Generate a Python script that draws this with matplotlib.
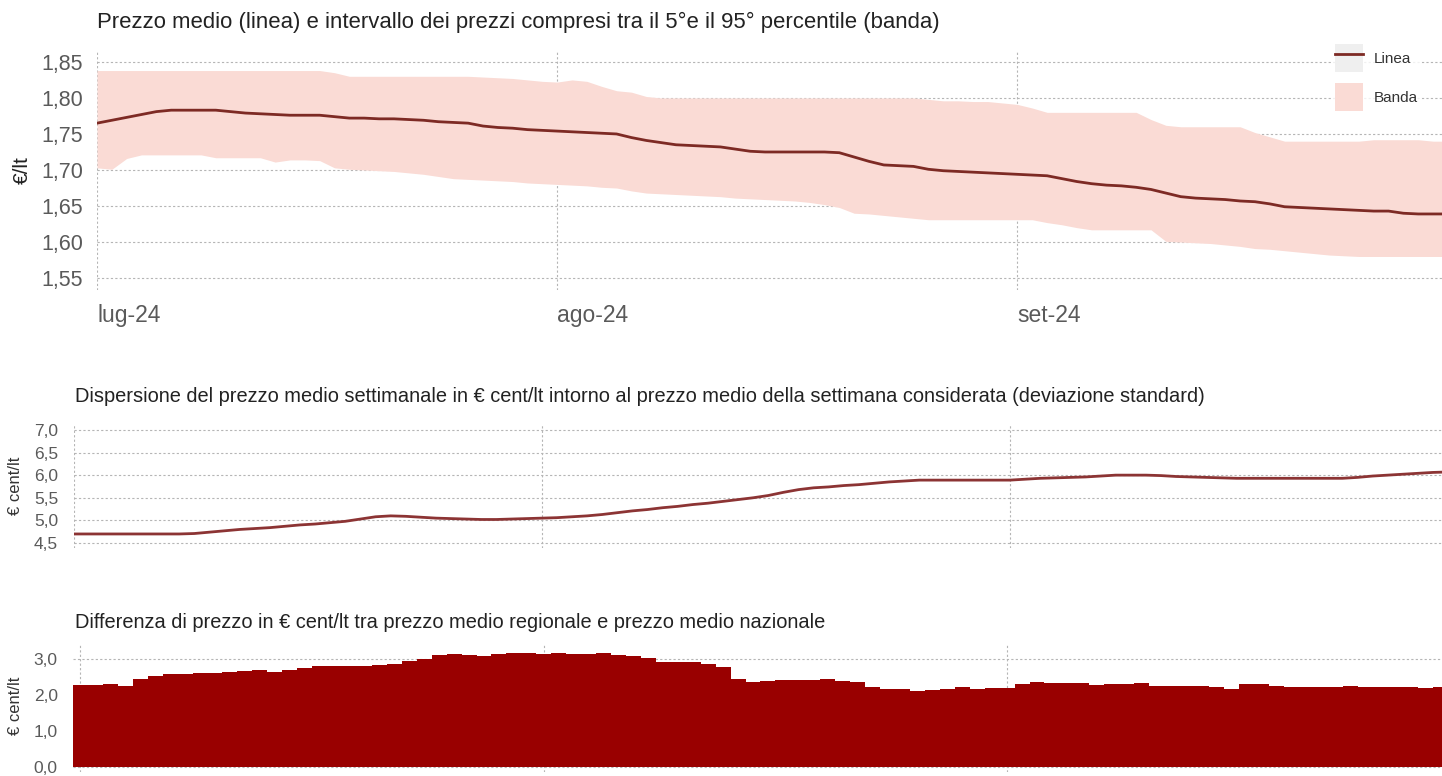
import matplotlib
matplotlib.use('Agg')
import matplotlib.pyplot as plt
from matplotlib.lines import Line2D
from matplotlib.patches import Patch
from matplotlib.legend_handler import HandlerTuple
from matplotlib.ticker import FuncFormatter
import numpy as np
import pandas as pd

plt.rcParams['font.family'] = ['Liberation Sans', 'DejaVu Sans']

# prezzo medio giornaliero (euro/lt), 1 lug - 30 set 2024
mean_price = [1.765, 1.769, 1.773, 1.777, 1.781, 1.783, 1.783, 1.783, 1.783, 1.781,
              1.779, 1.778, 1.777, 1.776, 1.776, 1.776, 1.774, 1.772, 1.772, 1.771,
              1.771, 1.770, 1.769, 1.767, 1.766, 1.765, 1.761, 1.759, 1.758, 1.756,
              1.755, 1.754, 1.753, 1.752, 1.751, 1.750, 1.745, 1.741, 1.738, 1.735,
              1.734, 1.733, 1.732, 1.729, 1.726, 1.725, 1.725, 1.725, 1.725, 1.725,
              1.724, 1.718, 1.712, 1.707, 1.706, 1.705, 1.701, 1.699, 1.698, 1.697,
              1.696, 1.695, 1.694, 1.693, 1.692, 1.688, 1.684, 1.681, 1.679, 1.678,
              1.676, 1.673, 1.668, 1.663, 1.661, 1.660, 1.659, 1.657, 1.656, 1.653,
              1.649, 1.648, 1.647, 1.646, 1.645, 1.644, 1.643, 1.643, 1.640, 1.639,
              1.639, 1.639]

# 95esimo percentile
band_high = [1.838, 1.838, 1.838, 1.838, 1.838, 1.838, 1.838, 1.838, 1.838, 1.838,
             1.838, 1.838, 1.838, 1.838, 1.838, 1.838, 1.835, 1.830, 1.830, 1.830,
             1.830, 1.830, 1.830, 1.830, 1.830, 1.830, 1.829, 1.828, 1.827, 1.825,
             1.823, 1.822, 1.825, 1.823, 1.816, 1.810, 1.808, 1.802, 1.800, 1.800,
             1.800, 1.800, 1.800, 1.800, 1.800, 1.800, 1.800, 1.800, 1.800, 1.800,
             1.800, 1.800, 1.800, 1.800, 1.800, 1.800, 1.798, 1.796, 1.796, 1.795,
             1.795, 1.793, 1.791, 1.786, 1.780, 1.780, 1.780, 1.780, 1.780, 1.780,
             1.780, 1.770, 1.762, 1.760, 1.760, 1.760, 1.760, 1.760, 1.752, 1.746,
             1.740, 1.740, 1.740, 1.740, 1.740, 1.740, 1.742, 1.742, 1.742, 1.742,
             1.740, 1.740]

# 5° percentile
band_low = [1.703, 1.701, 1.716, 1.721, 1.721, 1.721, 1.721, 1.721, 1.717, 1.717,
            1.717, 1.717, 1.711, 1.714, 1.714, 1.713, 1.703, 1.701, 1.700, 1.699,
            1.698, 1.696, 1.694, 1.691, 1.688, 1.687, 1.686, 1.685, 1.684, 1.682,
            1.681, 1.680, 1.679, 1.678, 1.676, 1.675, 1.671, 1.668, 1.667, 1.666,
            1.665, 1.664, 1.663, 1.661, 1.660, 1.659, 1.658, 1.657, 1.655, 1.652,
            1.648, 1.640, 1.639, 1.637, 1.635, 1.633, 1.631, 1.631, 1.631, 1.631,
            1.631, 1.631, 1.631, 1.631, 1.627, 1.624, 1.620, 1.617, 1.617, 1.617,
            1.617, 1.617, 1.601, 1.600, 1.599, 1.598, 1.596, 1.594, 1.591, 1.590,
            1.588, 1.586, 1.584, 1.582, 1.581, 1.580, 1.580, 1.580, 1.580, 1.580,
            1.580, 1.580]

# deviazione standard (cent/lt)
std_dev = [4.70, 4.70, 4.70, 4.70, 4.70, 4.70, 4.70, 4.70, 4.71, 4.74,
           4.77, 4.80, 4.82, 4.84, 4.87, 4.90, 4.92, 4.95, 4.98, 5.03,
           5.08, 5.10, 5.09, 5.07, 5.05, 5.04, 5.03, 5.02, 5.02, 5.03,
           5.04, 5.05, 5.06, 5.08, 5.10, 5.13, 5.17, 5.21, 5.24, 5.28,
           5.31, 5.35, 5.38, 5.42, 5.46, 5.50, 5.55, 5.62, 5.68, 5.72,
           5.74, 5.77, 5.79, 5.82, 5.85, 5.87, 5.89, 5.89, 5.89, 5.89,
           5.89, 5.89, 5.89, 5.91, 5.93, 5.94, 5.95, 5.96, 5.98, 6.00,
           6.00, 6.00, 5.99, 5.97, 5.96, 5.95, 5.94, 5.93, 5.93, 5.93,
           5.93, 5.93, 5.93, 5.93, 5.93, 5.95, 5.98, 6.00, 6.02, 6.04,
           6.06, 6.07]

# differenza regionale - nazionale (cent/lt)
price_diff = [2.29, 2.29, 2.31, 2.27, 2.45, 2.55, 2.60, 2.60, 2.62, 2.62,
              2.66, 2.69, 2.71, 2.65, 2.71, 2.77, 2.82, 2.81, 2.81, 2.81,
              2.84, 2.87, 2.96, 3.02, 3.11, 3.15, 3.13, 3.09, 3.14, 3.17,
              3.19, 3.15, 3.19, 3.15, 3.15, 3.19, 3.11, 3.09, 3.05, 2.93,
              2.93, 2.94, 2.87, 2.78, 2.45, 2.36, 2.40, 2.43, 2.42, 2.42,
              2.45, 2.41, 2.36, 2.24, 2.17, 2.17, 2.11, 2.15, 2.19, 2.22,
              2.19, 2.21, 2.21, 2.31, 2.36, 2.34, 2.34, 2.34, 2.28, 2.32,
              2.32, 2.35, 2.27, 2.27, 2.27, 2.25, 2.23, 2.19, 2.31, 2.31,
              2.26, 2.24, 2.24, 2.24, 2.24, 2.26, 2.24, 2.24, 2.24, 2.24,
              2.20, 2.23]

dates = pd.date_range('2024-07-01', periods=len(mean_price), freq='D')
month_ticks = pd.to_datetime(['2024-07-01', '2024-08-01', '2024-09-01'])
month_labels = ['lug-24', 'ago-24', 'set-24']

W, H = 1442, 776
fig = plt.figure(figsize=(W / 100, H / 100), dpi=100)


def px_axes(left, top, right, bottom):
    return fig.add_axes([left / W, 1 - bottom / H, (right - left) / W, (bottom - top) / H])


grid_kw = dict(color='#b5b5b5', linestyle=(0, (2, 2)), linewidth=0.8)
tick_col = '#5a5a5a'
line_col = '#7d2a24'
band_col = '#fadbd5'
bar_col = '#990000'
day = pd.Timedelta(days=1)


def style(ax, fmt, ysize):
    for s in ax.spines.values():
        s.set_visible(False)
    ax.set_xticks(month_ticks)
    ax.grid(True, **grid_kw)
    ax.set_axisbelow(True)
    ax.tick_params(length=0, colors=tick_col)
    ax.tick_params(axis='y', labelsize=ysize)
    ax.yaxis.set_major_formatter(FuncFormatter(lambda v, p: fmt.format(v).replace('.', ',')))


# --- pannello 1: prezzo medio e banda
ax1 = px_axes(97, 50, 1442, 290)
ax1.fill_between(dates, band_low, band_high, color=band_col, linewidth=0)
ax1.plot(dates, mean_price, color=line_col, linewidth=2.0)
style(ax1, '{:.2f}', 15.5)
ax1.set_yticks(np.arange(1.55, 1.851, 0.05))
ax1.set_ylim(1.5335, 1.8665)
ax1.set_xlim(dates[0], dates[0] + 90.6 * day)
ax1.set_xticklabels(month_labels, ha='left', fontsize=16.5)
ax1.tick_params(axis='x', pad=10)
ax1.tick_params(axis='y', pad=10)

leg = ax1.legend(handles=[(Patch(facecolor='#efefef', edgecolor='none'),
                           Line2D([], [], color=line_col, linewidth=2.0)),
                          Patch(facecolor=band_col, edgecolor='none')],
                 labels=['Linea', 'Banda'],
                 handler_map={tuple: HandlerTuple(ndivide=1, pad=0)},
                 loc='upper left', bbox_to_anchor=(1323 / W, 1 - 32 / H),
                 bbox_transform=fig.transFigure, fontsize=11,
                 handlelength=1.8, handleheight=2.42, handletextpad=0.72,
                 labelspacing=0.72, borderpad=0.3, frameon=True, fancybox=False)
leg.get_frame().set_facecolor('white')
leg.get_frame().set_edgecolor('none')
for t in leg.get_texts():
    t.set_color('#333333')

fig.text(97 / W, 1 - 22 / H,
         'Prezzo medio (linea) e intervallo dei prezzi compresi tra il 5°e il 95° percentile (banda)',
         ha='left', va='center', fontsize=15.9, color='#222222')
fig.text(22 / W, 1 - 170 / H, '€/lt', rotation=90, ha='center', va='center',
         fontsize=15, color='#222222')

# --- pannello 2: deviazione standard
ax2 = px_axes(73.5, 424, 1442, 548)
ax2.plot(dates, std_dev, color='#8c3434', linewidth=2.0)
style(ax2, '{:.1f}', 12.5)
ax2.set_yticks(np.arange(4.5, 7.01, 0.5))
ax2.set_ylim(4.39, 7.13)
ax2.set_xlim(dates[0], dates[0] + 90.6 * day)
ax2.set_xticklabels([])
ax2.tick_params(axis='y', pad=11)

fig.text(75 / W, 1 - 397 / H,
         'Dispersione del prezzo medio settimanale in € cent/lt intorno al prezzo medio '
         'della settimana considerata (deviazione standard)',
         ha='left', va='center', fontsize=14.4, color='#222222')
fig.text(15 / W, 1 - 486 / H, '€ cent/lt', rotation=90, ha='center', va='center',
         fontsize=12, color='#333333')

# --- pannello 3: differenza regionale / nazionale
ax3 = px_axes(73, 645, 1442, 772)
ax3.bar(dates, price_diff, width=1.0, color=bar_col, linewidth=0)
style(ax3, '{:.1f}', 12.5)
ax3.set_yticks([0, 1, 2, 3])
ax3.set_ylim(-0.13, 3.4)
ax3.set_xlim(dates[0] - 0.5 * day, dates[0] + 91.1 * day)
ax3.set_xticklabels([])
ax3.tick_params(axis='y', pad=11)

fig.text(75 / W, 1 - 622 / H,
         'Differenza di prezzo in € cent/lt tra prezzo medio regionale e prezzo medio nazionale',
         ha='left', va='center', fontsize=14.4, color='#222222')
fig.text(15 / W, 1 - 706 / H, '€ cent/lt', rotation=90, ha='center', va='center',
         fontsize=12, color='#333333')

fig.savefig('out.png', dpi=100, facecolor='white')
